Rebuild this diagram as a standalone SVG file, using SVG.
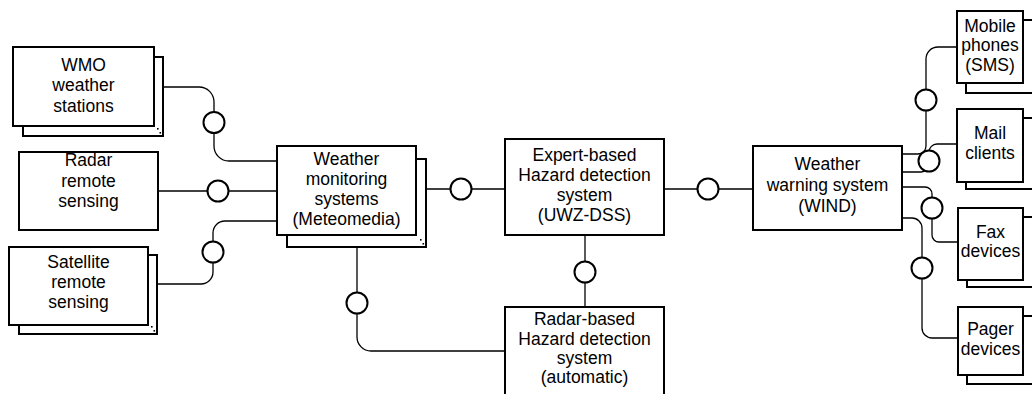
<svg xmlns="http://www.w3.org/2000/svg" width="1032" height="394" viewBox="0 0 1032 394">
<style>
.box{fill:#fff;stroke:#000;stroke-width:2}
.conn{fill:none;stroke:#000;stroke-width:1.3}
.port{fill:#fff;stroke:#000;stroke-width:2}
text{font-family:"Liberation Sans",Arial,sans-serif;font-size:17.5px;fill:#000;text-anchor:middle}
.dot{fill:#000}
</style>
<rect width="1032" height="394" fill="#fff"/>
<g id="connectors">
<path class="conn" d="M163,87 H199 A15,15 0 0 1 214,102 V146 A15,15 0 0 0 229,161 H277"/>
<path class="conn" d="M158,191 H277"/>
<path class="conn" d="M277,221 H225 A12,12 0 0 0 213,233 V272 A12,12 0 0 1 201,284 H157"/>
<path class="conn" d="M416,189 H505"/>
<path class="conn" d="M357,247 V337 A14,14 0 0 0 371,351 H505"/>
<path class="conn" d="M664,189 H753"/>
<path class="conn" d="M585,235 V307"/>
<path class="conn" d="M902,154 H918 A8,8 0 0 0 926,146 V59 A12,12 0 0 1 938,47 H957"/>
<path class="conn" d="M902,172 H921 A8,8 0 0 0 929,164 V152 A8,8 0 0 1 937,144 H957"/>
<path class="conn" d="M902,187 H925 A7,7 0 0 1 932,194 V235 A7,7 0 0 0 939,242 H958"/>
<path class="conn" d="M902,218 H912 A10,10 0 0 1 922,228 V328 A10,10 0 0 0 932,338 H958"/>
<circle class="port" cx="214" cy="122.5" r="10.5"/>
<circle class="port" cx="218" cy="191" r="10.5"/>
<circle class="port" cx="213" cy="252" r="10.5"/>
<circle class="port" cx="461" cy="189" r="10.5"/>
<circle class="port" cx="357" cy="303" r="10.5"/>
<circle class="port" cx="708" cy="189" r="10.5"/>
<circle class="port" cx="585" cy="272" r="10.5"/>
<circle class="port" cx="926" cy="100" r="10.5"/>
<circle class="port" cx="929" cy="161" r="10.5"/>
<circle class="port" cx="932" cy="208" r="10.5"/>
<circle class="port" cx="922" cy="268" r="10.5"/>
</g>
<g id="wmo">
<rect class="box" x="23" y="57" width="140" height="79"/>
<rect class="dot" x="157" y="128" width="1.6" height="1.6"/><rect class="dot" x="159.5" y="132" width="1.6" height="1.6"/>
<rect class="box" x="13" y="47" width="141" height="79"/>
<text x="83.5" y="71">WMO</text><text x="83.5" y="91">weather</text><text x="83.5" y="112">stations</text>
</g>
<g id="radar">
<rect class="box" x="19" y="152" width="139" height="78"/>
<text x="88.5" y="166">Radar</text><text x="88.5" y="187">remote</text><text x="88.5" y="207">sensing</text>
</g>
<g id="satellite">
<rect class="box" x="19" y="255" width="138" height="79"/>
<rect class="dot" x="151" y="326" width="1.6" height="1.6"/><rect class="dot" x="153.5" y="330" width="1.6" height="1.6"/>
<rect class="box" x="9" y="247" width="139" height="78"/>
<text x="78.5" y="268">Satellite</text><text x="78.5" y="288">remote</text><text x="78.5" y="308">sensing</text>
</g>
<g id="monitoring">
<rect class="box" x="287" y="159" width="139" height="88"/>
<rect class="dot" x="420" y="239" width="1.6" height="1.6"/><rect class="dot" x="422.5" y="243" width="1.6" height="1.6"/>
<rect class="box" x="277" y="146" width="139" height="89"/>
<text x="346.5" y="165">Weather</text><text x="346.5" y="185">monitoring</text><text x="346.5" y="205">systems</text><text x="346.5" y="225">(Meteomedia)</text>
</g>
<g id="expert">
<rect class="box" x="505" y="139" width="159" height="96"/>
<text x="584.5" y="161">Expert-based</text><text x="584.5" y="181">Hazard detection</text><text x="584.5" y="201">system</text><text x="584.5" y="221">(UWZ-DSS)</text>
</g>
<g id="radarbased">
<rect class="box" x="505" y="307" width="159" height="96"/>
<text x="584.5" y="325">Radar-based</text><text x="584.5" y="345">Hazard detection</text><text x="584.5" y="364">system</text><text x="584.5" y="383">(automatic)</text>
</g>
<g id="warning">
<rect class="box" x="753" y="146" width="149" height="84"/>
<text x="827.5" y="170">Weather</text><text x="827.5" y="191">warning system</text><text x="827.5" y="212">(WIND)</text>
</g>
<g id="mobile">
<rect class="box" x="966" y="20" width="80" height="73"/>
<rect class="box" x="957" y="11" width="66" height="72"/>
<text x="990" y="32">Mobile</text><text x="990" y="51">phones</text><text x="990" y="71">(SMS)</text>
</g>
<g id="mail">
<rect class="box" x="966" y="118" width="80" height="71"/>
<rect class="box" x="957" y="109" width="66" height="73"/>
<text x="990" y="139">Mail</text><text x="990" y="159">clients</text>
</g>
<g id="fax">
<rect class="box" x="967" y="217" width="80" height="70"/>
<rect class="box" x="958" y="208" width="65" height="72"/>
<text x="990.5" y="238">Fax</text><text x="990.5" y="257">devices</text>
</g>
<g id="pager">
<rect class="box" x="967" y="316" width="80" height="68"/>
<rect class="box" x="958" y="307" width="65" height="68"/>
<text x="990.5" y="335">Pager</text><text x="990.5" y="355">devices</text>
</g>
</svg>
